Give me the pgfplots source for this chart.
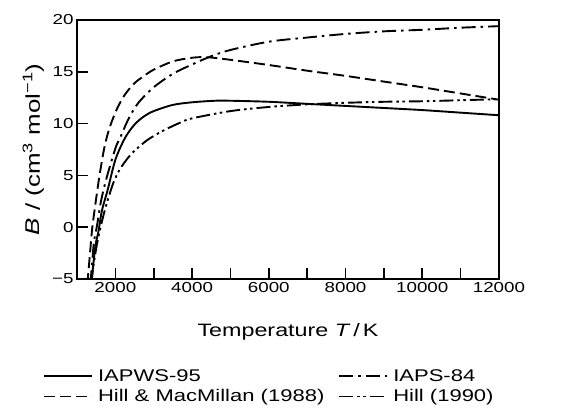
\documentclass[border=0pt]{standalone}
\usepackage{pgfplots}
\pgfplotsset{compat=1.18}
\usepackage{fontspec}
\setmainfont{Liberation Sans}[FakeStretch=1.3]

% second virial coefficient of water, four equations
\pgfplotstableread{
T B
1380 -5.5
1400 -4.5
1480 -1.8
1560 -0.4
1650 1.6
1800 3.6
2000 6.5
2250 8.6
2500 9.9
2750 10.7
3000 11.2
3500 11.8
4000 12.05
4600 12.2
5000 12.2
6000 12.1
7000 11.9
8000 11.7
9000 11.5
10000 11.3
11000 11.05
12000 10.8
}\iapws

\pgfplotstableread{
T B
1340 -5.5
1360 -5
1440 -1.5
1520 0.1
1620 2.4
1760 4.6
2000 7.6
2120 8.6
2350 10.5
2600 12.0
3000 13.5
3500 14.8
4000 15.7
4500 16.5
5000 17.1
6000 17.9
7000 18.3
8000 18.65
9000 18.9
10000 19.05
11000 19.25
12000 19.4
}\iaps

\pgfplotstableread{
T B
1260 -5.5
1280 -5
1340 -2.5
1400 0
1520 3.3
1600 5.3
1720 7.8
1850 9.6
2040 11.4
2250 12.8
2500 13.9
2750 14.6
3000 15.2
3500 16.0
4000 16.35
4400 16.4
5000 16.15
6000 15.65
7000 15.1
8000 14.6
9000 14.05
10000 13.5
11000 12.9
12000 12.3
}\hillmac

\pgfplotstableread{
T B
1380 -5.5
1400 -4.5
1480 -2.5
1560 -0.9
1680 1.0
1800 2.6
1950 4.3
2120 5.6
2400 7.0
2760 8.2
3000 8.8
3320 9.45
3700 10.1
4000 10.5
5000 11.2
6000 11.6
7000 11.85
8000 12.0
9000 12.1
10000 12.15
11000 12.25
12000 12.35
}\hill

\begin{document}
\begin{tikzpicture}
\begin{axis}[
  width=422bp, height=259bp, scale only axis,
  xmin=1000, xmax=12000, ymin=-5, ymax=20,
  scaled x ticks=false,
  xtick={2000,4000,6000,8000,10000,12000},
  xticklabels={2000,4000,6000,8000,10000,12000},
  minor xtick={3000,5000,7000,9000,11000},
  ytick={-5,0,5,10,15,20},
  yticklabels={−5,0,5,10,15,20},
  xtick pos=left, ytick pos=left,
  tick align=inside,
  major tick length=11bp, minor tick length=11bp,
  every tick/.style={black, line width=1.6bp},
  axis line style={line width=1.6bp},
  ticklabel style={font=\fontsize{14.5}{16}\selectfont},
  xlabel={Temperature \textit{T}\,/\,K},
  ylabel={\textit{B} / (cm\textsuperscript{3} mol\textsuperscript{−1})},
  xlabel style={font=\fontsize{18}{21}\selectfont,
    at={(axis description cs:0.5,-0.224)}, anchor=base},
  ylabel style={font=\fontsize{20}{23}\selectfont,
    at={(axis description cs:-0.0877,0.5)}, anchor=base},
  legend columns=2,
  legend cell align=left,
  legend style={at={(-0.0877,-0.333)}, anchor=north west, draw=none,
    font=\fontsize{17}{19}\selectfont, row sep=3bp,
    /tikz/every odd column/.append style={column sep=3bp},
    /tikz/every even column/.append style={column sep=12bp}},
  legend image code/.code={\draw[#1] (0bp,0bp) -- (48bp,0bp);},
  every axis plot/.append style={black, line width=1.9bp, smooth, tension=0.5},
]
\addplot[solid] table {\iapws};
\addlegendentry{IAPWS-95}
\addplot[dash pattern=on 14bp off 5bp on 2.5bp off 5bp] table {\iaps};
\addlegendentry{IAPS-84}
\addplot[dash pattern=on 11bp off 5bp] table {\hillmac};
\addlegendentry{Hill \& MacMillan (1988)}
\addplot[dash pattern=on 14bp off 4bp on 2.5bp off 3.5bp on 2.5bp off 4bp] table {\hill};
\addlegendentry{Hill (1990)}
\coordinate (bl) at (rel axis cs:-0.1825,-0.529);
\coordinate (tr) at (rel axis cs:1.147,1.077);
\end{axis}
\pgfresetboundingbox
\path (bl) rectangle (tr);
\end{tikzpicture}
\end{document}
